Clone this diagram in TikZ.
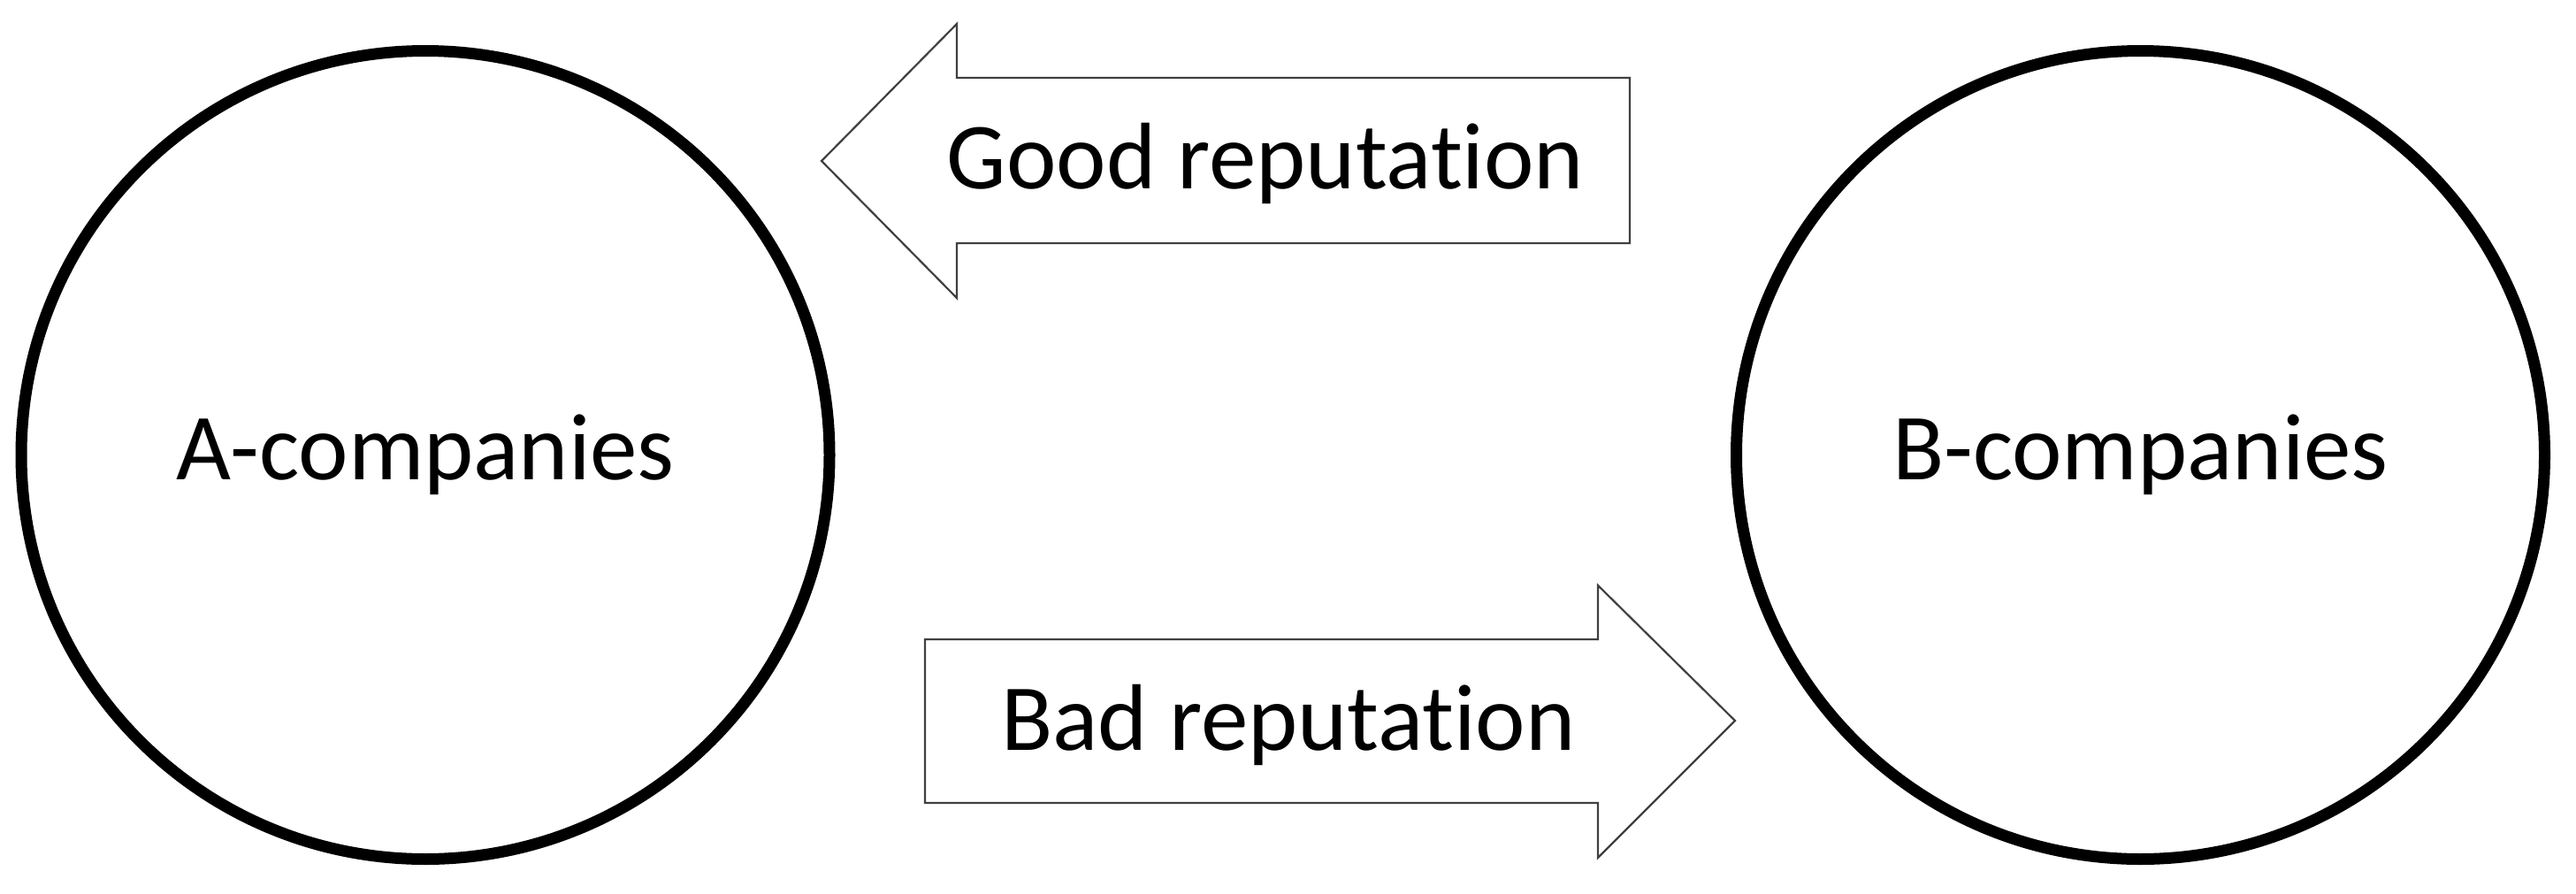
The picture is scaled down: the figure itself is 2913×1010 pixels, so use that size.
\documentclass[tikz,border=0pt]{standalone}
\usepackage{fontspec}
\setmainfont{Carlito}[Ligatures={NoCommon,NoRare,NoContextual}]
\begin{document}
\begin{tikzpicture}[x=1pt,y=-1pt,
  company/.style={circle,draw=black,line width=13pt,minimum size=914pt,inner sep=0pt,
    font=\fontsize{107}{120}\selectfont},
  bigarrow/.style={draw=black!75,line width=2.2pt,fill=white,line join=miter},
  arrowtext/.style={anchor=base,inner sep=0pt,font=\fontsize{107}{120}\selectfont}]
\useasboundingbox (0,0) rectangle (2913,1010);
\node[company] (A) at (481,514.5) {A-companies};
\node[company] (B) at (2420.5,514.5) {B-companies};
% Good reputation arrow (pointing left)
\draw[bigarrow] (929,182) -- (1082,27) -- (1082,88) -- (1843,88) -- (1843,275)
  -- (1082,275) -- (1082,337) -- cycle;
\node[arrowtext] (good) at (1431,213) {Good reputation};
% Bad reputation arrow (pointing right)
\draw[bigarrow] (1962,815) -- (1807,970) -- (1807,908) -- (1046,908) -- (1046,723)
  -- (1807,723) -- (1807,662) -- cycle;
\node[arrowtext] (bad) at (1457,848) {Bad reputation};
\end{tikzpicture}
\end{document}
